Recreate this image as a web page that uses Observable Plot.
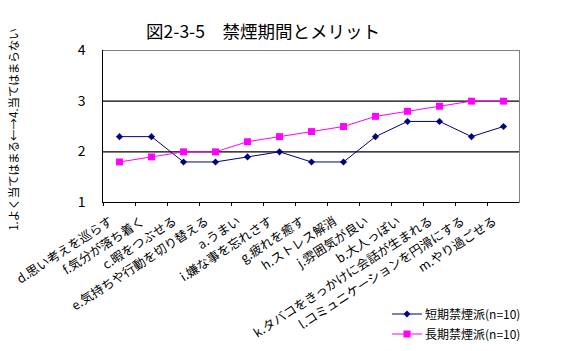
<!DOCTYPE html>
<html>
<head>
<meta charset="utf-8">
<script src="https://cdn.jsdelivr.net/npm/d3@7"></script>
<script src="https://cdn.jsdelivr.net/npm/@observablehq/plot@0.6"></script>
<style>
  body { margin: 0; background: #fff; }
  #wrap { position: relative; width: 564px; height: 351px; font-family: "Noto Sans CJK JP", sans-serif; }
  #legend { position: absolute; left: 392px; top: 304px; font-size: 12px; color: #000; line-height: 20px; }
  #legend div { display: flex; align-items: center; height: 20px; }
  #legend svg { margin-right: 3px; }
</style>
</head>
<body>
<div id="wrap"><div id="legend"></div></div>
<script>
const title = "図2-3-5　禁煙期間とメリット";
const yTitle = "1.よく当てはまる←→4.当てはまらない";
const categories = [
  "d.思い考えを巡らす",
  "f.気分が落ち着く",
  "c.暇をつぶせる",
  "e.気持ちや行動を切り替える",
  "a.うまい",
  "i.嫌な事を忘れさす",
  "g.疲れを癒す",
  "h.ストレス解消",
  "j.雰囲気が良い",
  "b.大人っぽい",
  "k.タバコをきっかけに会話が生まれる",
  "l.コミュニケーションを円滑にする",
  "m.やり過ごせる"
];
const seriesNames = ["短期禁煙派(n=10)", "長期禁煙派(n=10)"];
const shortTerm = [2.3, 2.3, 1.8, 1.8, 1.9, 2.0, 1.8, 1.8, 2.3, 2.6, 2.6, 2.3, 2.5];
const longTerm  = [1.8, 1.9, 2.0, 2.0, 2.2, 2.3, 2.4, 2.5, 2.7, 2.8, 2.9, 3.0, 3.0];
const yTicks = [1, 2, 3, 4];
const gridValues = [2, 3];

const colors = ["#000080", "#ff00ff"];
const shortData = categories.map((c, i) => ({cat: c, v: shortTerm[i]}));
const longData = categories.map((c, i) => ({cat: c, v: longTerm[i]}));

const font = "Noto Sans CJK JP";
const W = 564, ML = 102, MR = 45;
const halfBand = (W - ML - MR) / categories.length / 2;
const chart = Plot.plot({
  width: W,
  height: 351,
  marginLeft: ML,
  marginRight: MR,
  marginTop: 50,
  marginBottom: 149,
  style: {fontFamily: font, background: "white"},
  x: {type: "band", domain: categories, padding: 0, axis: null, label: null},
  y: {domain: [1, 4], axis: null, label: null},
  marks: [
    Plot.frame({stroke: "#808080"}),
    Plot.frame({anchor: "left", stroke: "#000"}),
    Plot.ruleY([1, ...gridValues], {stroke: "#000", strokeWidth: 1.2}),
    Plot.axisX({tickSize: 4, tickFormat: () => "", label: null, dx: -halfBand, stroke: "#000"}),
    Plot.axisY({ticks: yTicks, tickSize: 0, tickPadding: 17, fontSize: 14, label: null, tickFormat: d3.format("d")}),
    Plot.line(shortData, {x: "cat", y: "v", stroke: colors[0], strokeWidth: 1}),
    Plot.line(longData, {x: "cat", y: "v", stroke: colors[1], strokeWidth: 1}),
    Plot.dot(shortData, {x: "cat", y: "v", symbol: "diamond2", r: 3.2, fill: colors[0]}),
    Plot.dot(longData, {x: "cat", y: "v", symbol: "square", r: 3.9, fill: colors[1]}),
    Plot.text(categories, {x: d => d, text: d => d, frameAnchor: "bottom", rotate: -33, textAnchor: "end", dx: -6, dy: 21, fontSize: 12.5, fill: "#000"}),
    Plot.text([yTitle], {text: d => d, frameAnchor: "left", textAnchor: "middle", rotate: -90, dx: -88, dy: 3, fontSize: 11.5, fill: "#000"}),
    Plot.text([title], {text: d => d, frameAnchor: "top", textAnchor: "middle", dx: -48, dy: -25, fontSize: 17.5, fill: "#000"})
  ]
});
document.getElementById("wrap").prepend(chart);

// Legend
const legend = document.getElementById("legend");
seriesNames.forEach((name, i) => {
  const row = document.createElement("div");
  const ns = "http://www.w3.org/2000/svg";
  const s = document.createElementNS(ns, "svg");
  s.setAttribute("width", 30); s.setAttribute("height", 10);
  const ln = document.createElementNS(ns, "line");
  ln.setAttribute("x1", 0); ln.setAttribute("x2", 30); ln.setAttribute("y1", 5); ln.setAttribute("y2", 5);
  ln.setAttribute("stroke", colors[i]);
  s.appendChild(ln);
  const m = document.createElementNS(ns, "path");
  m.setAttribute("d", i === 0 ? "M15,1.5L18.5,5L15,8.5L11.5,5Z" : "M11.5,1.5H18.5V8.5H11.5Z");
  m.setAttribute("fill", colors[i]);
  s.appendChild(m);
  row.appendChild(s);
  const t = document.createElement("span");
  t.textContent = name;
  row.appendChild(t);
  legend.appendChild(row);
});
</script>
</body>
</html>
